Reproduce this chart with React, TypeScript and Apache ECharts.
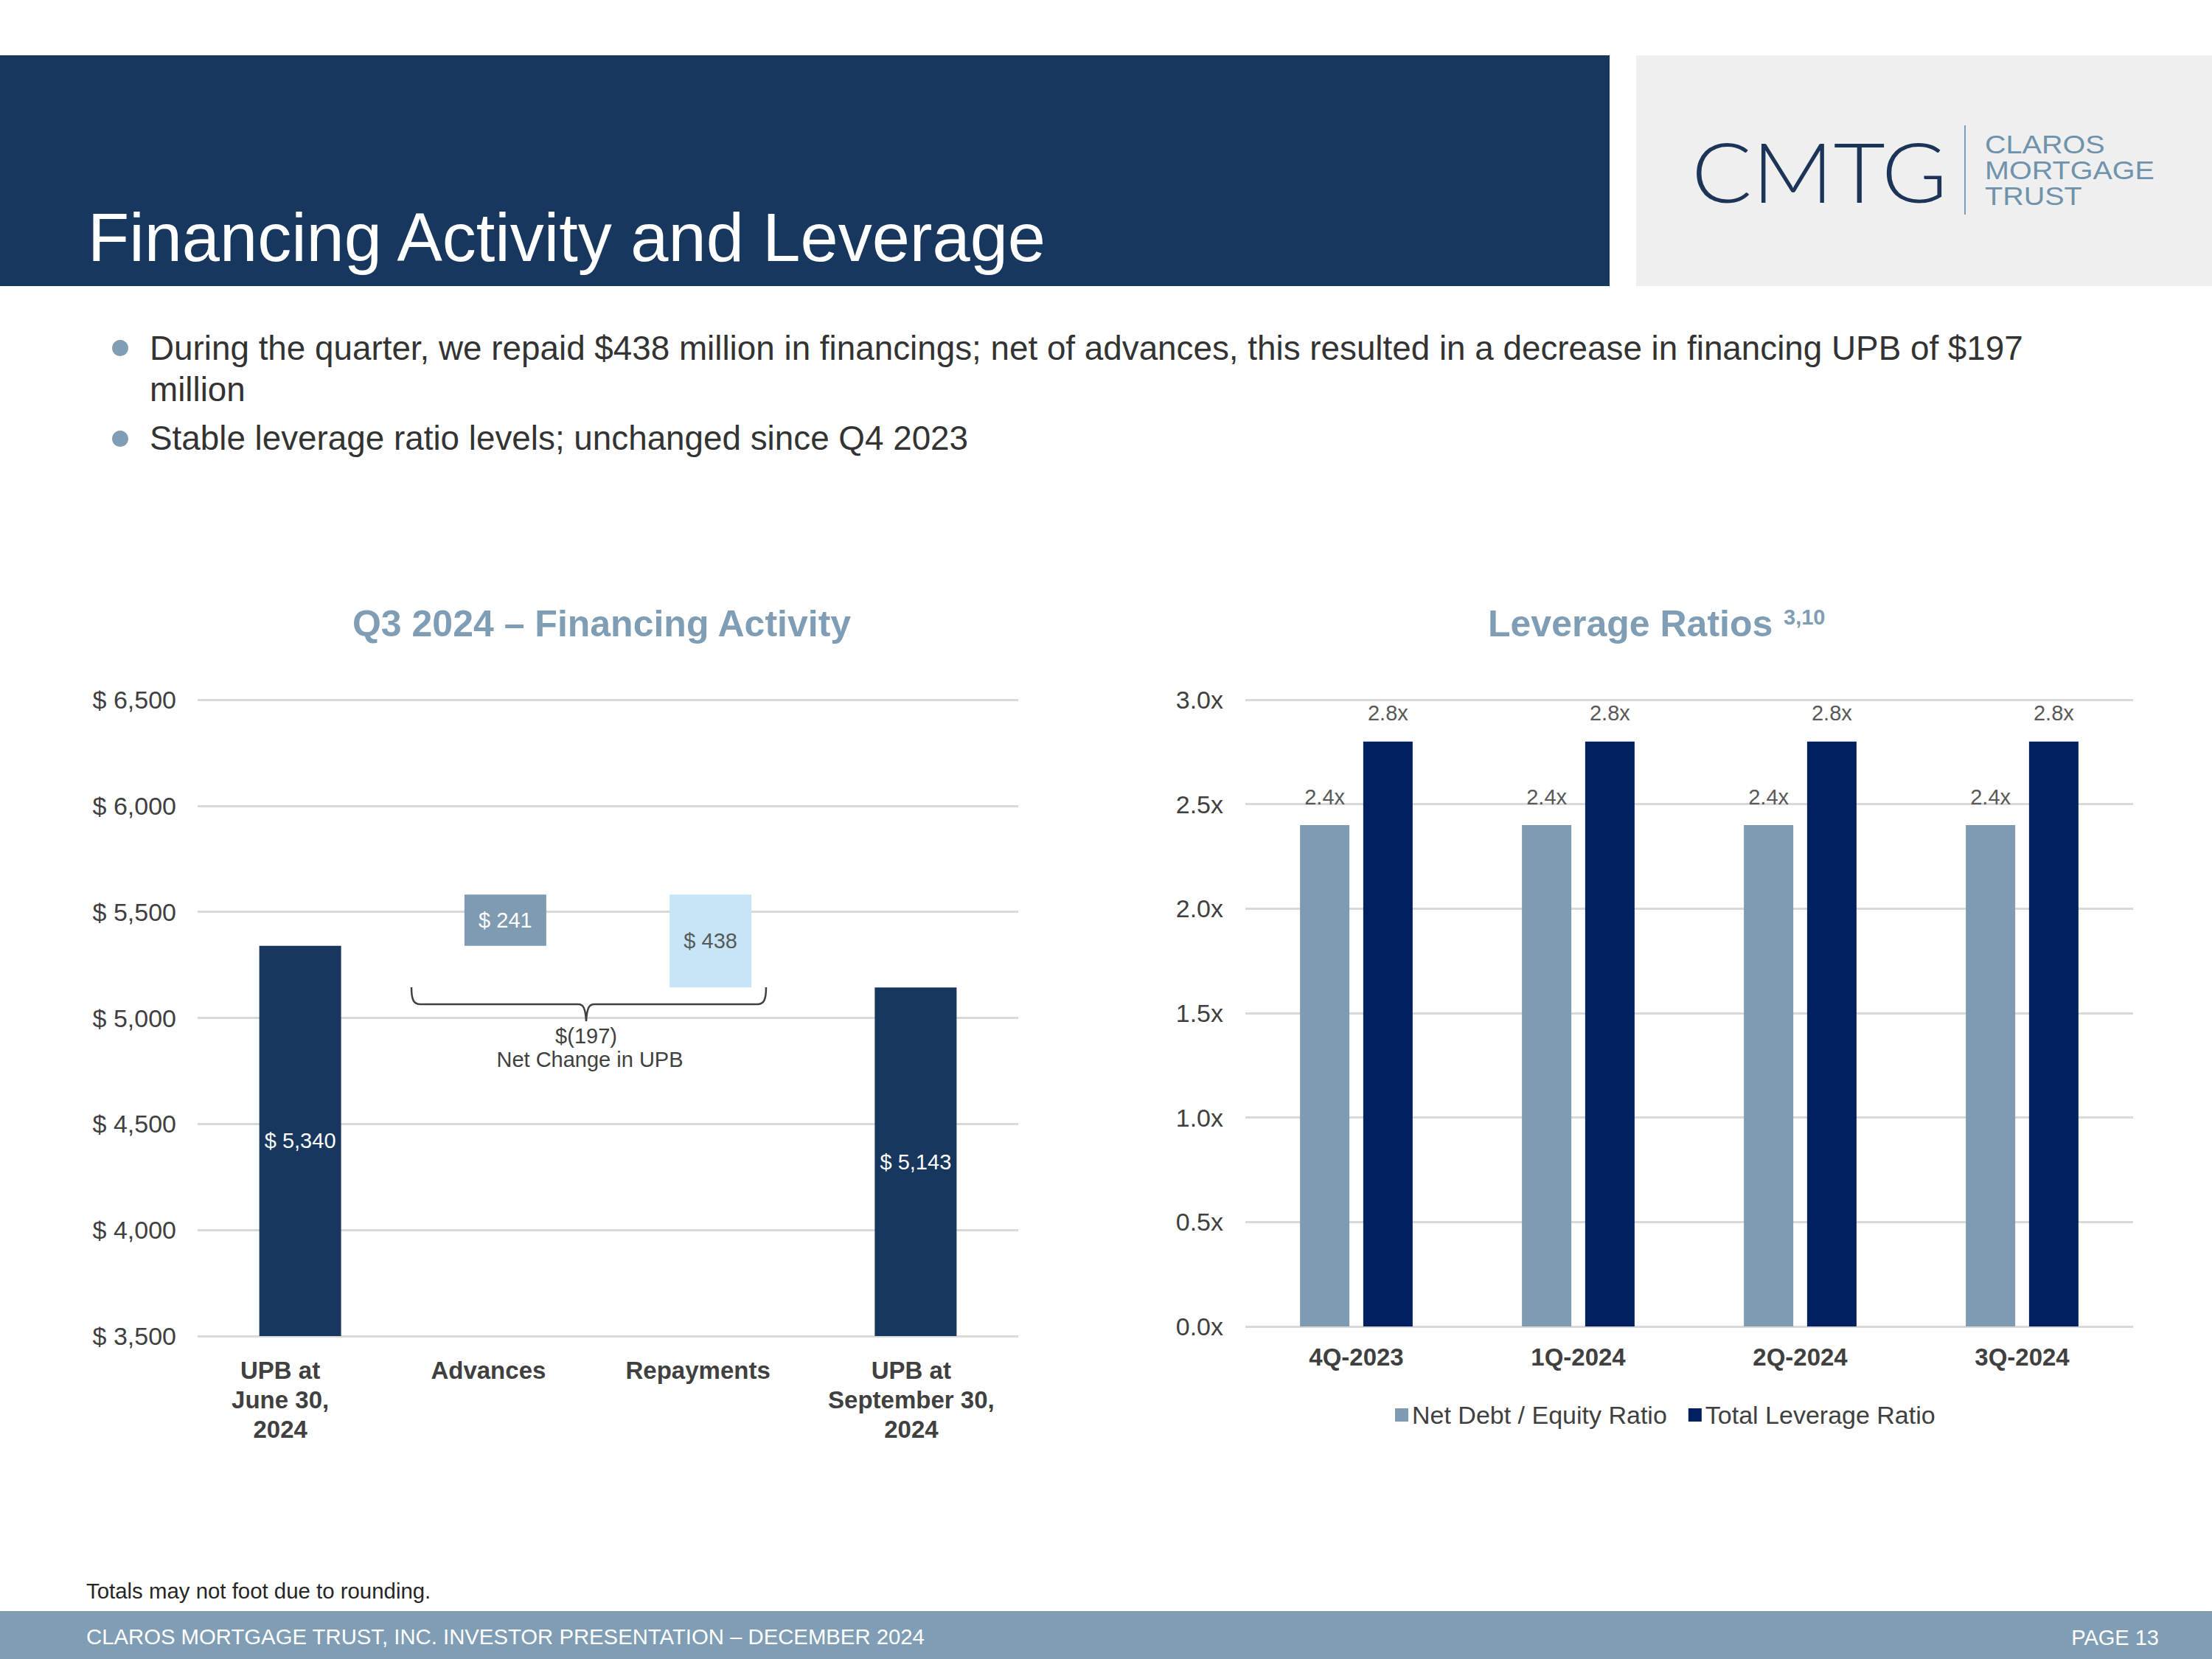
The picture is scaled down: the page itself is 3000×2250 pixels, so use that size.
import React, { useEffect, useRef } from "react";
import * as echarts from "echarts";

// ---------- data ----------
const flowCategories = ["UPB at\nJune 30,\n2024", "Advances", "Repayments", "UPB at\nSeptember 30,\n2024"];
const flowValues = [5340, 241, 438, 5143];
const flowBase = [0, 5340, 5143, 0];
const flowColors = ["#17375e", "#7f9bb1", "#c6e6f7", "#17375e"];
const flowLabelColors = ["#ffffff", "#ffffff", "#595959", "#ffffff"];
const flowAxisMin = 3500;
const flowAxisMax = 6500;
const flowAxisStep = 500;

const quarters = ["4Q-2023", "1Q-2024", "2Q-2024", "3Q-2024"];
const netDebtEquity = [2.4, 2.4, 2.4, 2.4];
const totalLeverage = [2.8, 2.8, 2.8, 2.8];
const ratioAxisMin = 0;
const ratioAxisMax = 3;
const ratioAxisStep = 0.5;
const legendNames = ["Net Debt / Equity Ratio", "Total Leverage Ratio"];

const pageTitle = "Financing Activity and Leverage";
const bulletLines = [
  "During the quarter, we repaid $438 million in financings; net of advances, this resulted in a decrease in financing UPB of $197",
  "million",
  "Stable leverage ratio levels; unchanged since Q4 2023",
];
const leftTitle = "Q3 2024 \u2013 Financing Activity";
const rightTitle = "Leverage Ratios";
const rightTitleSup = "3,10";
const netChangeLines = ["$(197)", "Net Change in UPB"];
const footnote = "Totals may not foot due to rounding.";
const footerText = "CLAROS MORTGAGE TRUST, INC. INVESTOR PRESENTATION \u2013 DECEMBER 2024";
const pageText = "PAGE 13";

const FONT = "'Liberation Sans', Arial, Helvetica, sans-serif";

echarts.graphic.registerShape(
  "brace",
  echarts.graphic.extendPath(
    "M0,0 C0,17 3,23 12,23 L226,23 C233,23 236,28 237,46 C238,28 241,23 248,23 L469,23 C478,23 481,17 481,0",
    {}
  )
);

const fmt = (v: number) => v.toLocaleString("en-US");

function txt(x: number, y: number, text: string, font: string, fill: string, align = "left", extra: any = {}) {
  return {
    type: "text",
    x,
    y,
    z: 10,
    silent: true,
    ...extra,
    style: {
      text,
      font,
      fill,
      textAlign: align,
      align,
      textVerticalAlign: "middle",
      verticalAlign: "middle",
    },
  };
}

export default function App() {
  const ref = useRef<HTMLDivElement>(null);

  useEffect(() => {
    document.body.style.margin = "0";
    if (!ref.current) return;
    const chart = echarts.init(ref.current, undefined, { renderer: "svg" });

    // label shift (right padding) per left-chart category, style only
    const labelPad = [54, 46, 34, 12];
    const richLeft: any = {};
    labelPad.forEach((p, i) => {
      richLeft["r" + i] = { fontSize: 33, fontWeight: "bold", color: "#404040", lineHeight: 40, padding: [0, p, 0, 0] };
    });

    const graphics: any[] = [
      { type: "rect", z: 1, silent: true, shape: { x: 0, y: 75, width: 2183, height: 313 }, style: { fill: "#17375e" } },
      { type: "rect", z: 1, silent: true, shape: { x: 2219, y: 75, width: 781, height: 313 }, style: { fill: "#efefef" } },
      txt(119, 322, pageTitle, `92px ${FONT}`, "#ffffff"),
      txt(2294, 232, "CMTG", `300 112px Lato, ${FONT}`, "#1c3457", "left", { scaleX: 1.085 }),
      { type: "line", z: 10, silent: true, shape: { x1: 2665, y1: 170, x2: 2665, y2: 291 }, style: { stroke: "#7f9db4", lineWidth: 2 } },
      txt(2692, 196, "CLAROS", `35px ${FONT}`, "#6f93ac", "left", { scaleX: 1.13 }),
      txt(2692, 231, "MORTGAGE", `35px ${FONT}`, "#6f93ac", "left", { scaleX: 1.13 }),
      txt(2692, 266, "TRUST", `35px ${FONT}`, "#6f93ac", "left", { scaleX: 1.13 }),
      { type: "circle", z: 10, silent: true, shape: { cx: 163, cy: 472, r: 11 }, style: { fill: "#7f9db4" } },
      { type: "circle", z: 10, silent: true, shape: { cx: 163, cy: 595, r: 11 }, style: { fill: "#7f9db4" } },
      txt(203, 472, bulletLines[0], `45.8px ${FONT}`, "#333333"),
      txt(203, 528, bulletLines[1], `45.8px ${FONT}`, "#333333"),
      txt(203, 594, bulletLines[2], `45.8px ${FONT}`, "#333333"),
      txt(816, 846, leftTitle, `bold 50px ${FONT}`, "#7f9db4", "center"),
      txt(2018, 846, rightTitle, `bold 50px ${FONT}`, "#7f9db4"),
      txt(2419, 837, rightTitleSup, `bold 29px ${FONT}`, "#7f9db4"),
      { type: "brace", z: 10, silent: true, x: 558, y: 1339, style: { fill: "none", stroke: "#404040", lineWidth: 2.5 } },
      txt(795, 1405, netChangeLines[0], `29px ${FONT}`, "#404040", "center"),
      txt(800, 1437, netChangeLines[1], `29px ${FONT}`, "#404040", "center"),
      txt(117, 2157, footnote, `29.4px ${FONT}`, "#262626"),
      { type: "rect", z: 1, silent: true, shape: { x: 0, y: 2185, width: 3000, height: 65 }, style: { fill: "#7f9db4" } },
      txt(117, 2219, footerText, `29.3px ${FONT}`, "#ffffff"),
      txt(2928, 2221, pageText, `29px ${FONT}`, "#ffffff", "right"),
    ];

    const option: any = {
      animation: false,
      backgroundColor: "#ffffff",
      textStyle: { fontFamily: FONT },
      grid: [
        { left: 268, right: 1619, top: 949, bottom: 438 },
        { left: 1689, right: 107, top: 949, bottom: 451 },
      ],
      xAxis: [
        {
          type: "category",
          gridIndex: 0,
          data: flowCategories,
          axisLine: { show: false },
          axisTick: { show: false },
          axisLabel: {
            interval: 0,
            fontSize: 33,
            fontWeight: "bold",
            color: "#404040",
            lineHeight: 40,
            margin: 26,
            formatter: (v: string, i: number) =>
              v
                .split("\n")
                .map((l) => `{r${i}|${l}}`)
                .join("\n"),
            rich: richLeft,
          },
        },
        {
          type: "category",
          gridIndex: 1,
          data: quarters,
          axisLine: { show: false },
          axisTick: { show: false },
          axisLabel: { interval: 0, fontSize: 33, fontWeight: "bold", color: "#404040", lineHeight: 40, margin: 21 },
        },
      ],
      yAxis: [
        {
          type: "value",
          gridIndex: 0,
          min: flowAxisMin,
          max: flowAxisMax,
          interval: flowAxisStep,
          axisLine: { show: false },
          axisTick: { show: false },
          splitLine: { lineStyle: { color: "#d9d9d9", width: 3 } },
          axisLabel: { fontSize: 34, color: "#404040", margin: 29, formatter: (v: number) => "$ " + fmt(v) },
        },
        {
          type: "value",
          gridIndex: 1,
          min: ratioAxisMin,
          max: ratioAxisMax,
          interval: ratioAxisStep,
          axisLine: { show: false },
          axisTick: { show: false },
          splitLine: { lineStyle: { color: "#d9d9d9", width: 3 } },
          axisLabel: { fontSize: 34, color: "#404040", margin: 30, formatter: (v: number) => v.toFixed(1) + "x" },
        },
      ],
      legend: {
        data: legendNames,
        left: 1887,
        top: 1897,
        icon: "rect",
        itemWidth: 18,
        itemHeight: 18,
        itemGap: 29,
        selectedMode: false,
        textStyle: { fontSize: 34, color: "#404040" },
      },
      series: [
        {
          name: "base",
          type: "bar",
          xAxisIndex: 0,
          yAxisIndex: 0,
          stack: "flow",
          barWidth: 111,
          clip: true,
          silent: true,
          itemStyle: { color: "rgba(0,0,0,0)" },
          data: flowBase,
        },
        {
          name: "flow",
          type: "bar",
          xAxisIndex: 0,
          yAxisIndex: 0,
          stack: "flow",
          barWidth: 111,
          clip: true,
          label: {
            show: true,
            position: "inside",
            fontSize: 29,
            formatter: (p: any) => "$ " + fmt(p.value),
          },
          data: flowValues.map((v, i) => ({
            value: v,
            itemStyle: { color: flowColors[i] },
            label: { color: flowLabelColors[i] },
          })),
        },
        {
          name: legendNames[0],
          type: "bar",
          xAxisIndex: 1,
          yAxisIndex: 1,
          barWidth: 67,
          barGap: "28%",
          itemStyle: { color: "#7f9bb1" },
          label: { show: true, position: "top", distance: 24, fontSize: 29, color: "#595959", formatter: (p: any) => p.value.toFixed(1) + "x" },
          data: netDebtEquity,
        },
        {
          name: legendNames[1],
          type: "bar",
          xAxisIndex: 1,
          yAxisIndex: 1,
          barWidth: 67,
          barGap: "28%",
          itemStyle: { color: "#002060" },
          label: { show: true, position: "top", distance: 24, fontSize: 29, color: "#595959", formatter: (p: any) => p.value.toFixed(1) + "x" },
          data: totalLeverage,
        },
      ],
      graphic: { elements: graphics },
    };

    chart.setOption(option);
    return () => chart.dispose();
  }, []);

  return <div ref={ref} style={{ position: "absolute", left: 0, top: 0, width: 3000, height: 2250 }} />;
}
